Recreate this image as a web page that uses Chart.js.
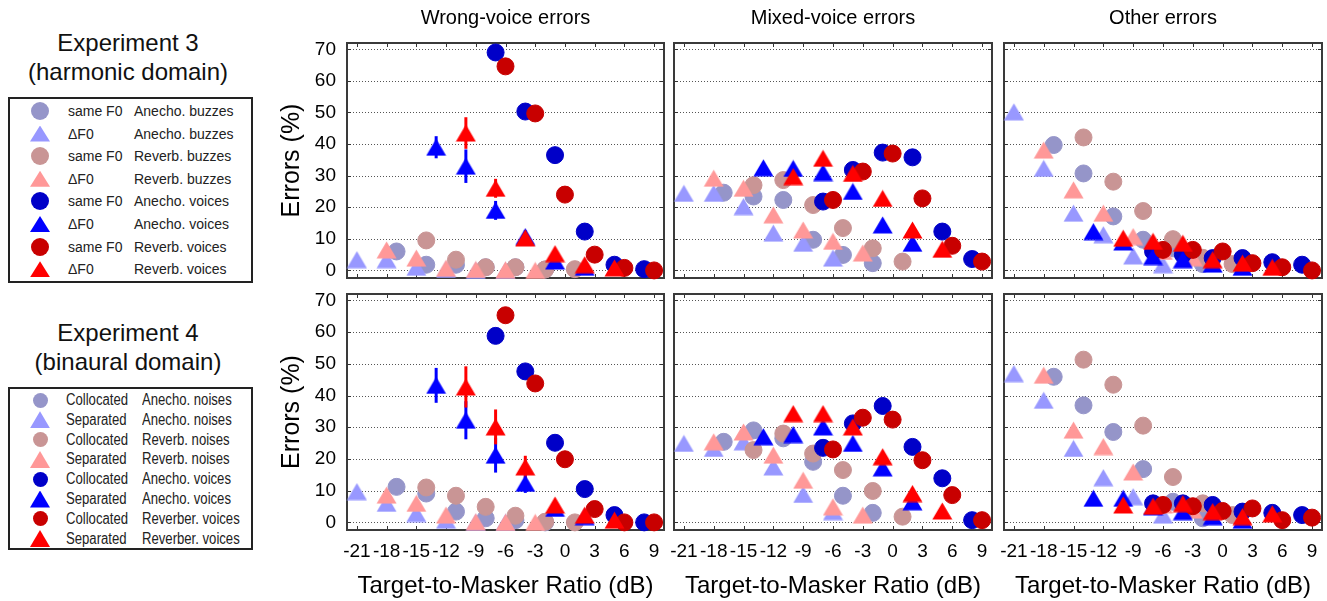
<!DOCTYPE html>
<html lang="en">
<head>
<meta charset="UTF-8">
<title>Errors vs Target-to-Masker Ratio</title>
<script src="https://cdn.jsdelivr.net/npm/chart.js"></script>
<style>
  body { margin: 0; width: 1327px; height: 601px; overflow: hidden; background: #fff; position: relative;
         font-family: 'Liberation Sans', Arial, sans-serif; color: #000; }
  .panel { position: absolute; }
  .exp-title { position: absolute; left: 0; width: 256px; text-align: center; font-size: 24px; line-height: 29px; color: #111; }
  .legend-box { position: absolute; left: 8px; width: 245px; border: 2px solid #222; box-sizing: border-box; }
  .txt { position: absolute; white-space: nowrap; line-height: 20px; color: #222; }
  .l3 { font-size: 14px; }
  .l4 { font-size: 16px; transform: scaleX(0.82); transform-origin: 0 50%; }
  .mk { position: absolute; }
  .tri { clip-path: polygon(50% 0, 100% 100%, 0 100%); }
</style>
</head>
<body>
<div class="exp-title" style="top:28px">Experiment 3<br>(harmonic domain)</div>
<div class="legend-box" style="top:97px;height:186px"></div>
<div class="exp-title" style="top:318px">Experiment 4<br>(binaural domain)</div>
<div class="legend-box" style="top:387px;height:163px"></div>
<script>
// axis ticks
const TMR_TICKS = [-21, -18, -15, -12, -9, -6, -3, 0, 3, 6, 9];
const ERR_TICKS = [0, 10, 20, 30, 40, 50, 60, 70];

// plotted TMR of each series (dB), same order as the legend
const xSameAnechBuzz = [-17, -14, -11, -8, -5, -2];
const xDiffAnechBuzz = [-21, -18, -15, -12, -9, -6];
const xSameReverbBuzz = [-14, -11, -8, -5, -2, 1];
const xDiffReverbBuzz = [-18, -15, -12, -9, -6, -3];
const xSameAnechVoice = [-7, -4, -1, 2, 5, 8];
const xDiffAnechVoice = [-13, -10, -7, -4, -1, 2];
const xSameReverbVoice = [-6, -3, 0, 3, 6, 9];
const xDiffReverbVoice = [-10, -7, -4, -1, 2, 5];

// errors (%) per panel, one row per series in legend order
const exp3Wrong = [
  [6, 1.8, 1.8, 1, 1, 0.3],
  [3.4, 3.4, 1, 0.3, 0, 0],
  [9.5, 3.4, 1, 1, 0.3, 0.4],
  [6.5, 3.9, 0.7, 0.3, 0.2, 0],
  [69, 50.3, 36.5, 12.3, 1.8, 0.4],
  [39, 33, 19, 10.7, 3, 1],
  [64.6, 49.7, 24, 5, 0.8, 0],
  [43.5, 26, 10.3, 5.3, 1.8, 0.8]
];
const exp3Mixed = [
  [24.6, 23.4, 22.3, 9.7, 4.9, 2.3],
  [24.4, 24.4, 20.2, 11.8, 8.6, 3.9],
  [27, 28.6, 20.7, 13.4, 7, 2.8],
  [29.2, 26, 17.6, 12.8, 9.2, 5.5],
  [21.8, 31.8, 37.3, 35.8, 12.3, 3.6],
  [32.5, 32.3, 31, 25, 14.4, 8.6],
  [22.3, 31.3, 37, 22.8, 7.8, 2.8],
  [29.7, 35.5, 30.7, 22.8, 12.8, 6.7]
];
const exp3Other = [
  [39.7, 30.7, 17.1, 9.7, 7, 2],
  [50.2, 32.3, 18.1, 11.3, 4.6, 1.8],
  [42.1, 28.1, 18.8, 9.9, 4, 2],
  [38.1, 25.5, 18.1, 10.7, 6, 4],
  [6, 5, 3.9, 3.9, 2.6, 1.8],
  [12.3, 9, 4.4, 3.4, 2, 1],
  [6.5, 6.5, 6, 2.3, 1, 0],
  [10.2, 9.2, 8.6, 3.4, 2.3, 1]
];
const exp4Wrong = [
  [11.2, 9.1, 3.4, 1.3, 0.7, 0],
  [9.7, 6, 2.8, 0.7, 0, 0],
  [11, 8.4, 4.9, 2.1, 0.2, 0],
  [8.6, 6, 2.3, 0.2, 0, 0],
  [58.8, 47.6, 25.1, 10.5, 2.3, 0],
  [43.2, 32.2, 21.2, 12.3, 4.4, 1.8],
  [65.3, 43.8, 19.9, 4.2, 0, 0],
  [42.7, 30.1, 17.5, 5.5, 2.3, 0.7]
];
const exp4Mixed = [
  [25.4, 29, 26.5, 19.1, 8.4, 3],
  [24.9, 23.3, 25.4, 17.5, 8.8, 3.4],
  [22.8, 28, 21.7, 16.5, 9.9, 1.8],
  [25.4, 28.5, 21.2, 13.3, 4.9, 2.3],
  [23.5, 31.2, 36.7, 23.8, 13.9, 0.7],
  [27, 27.7, 30.1, 24.9, 17.2, 6.5],
  [23, 33, 32.4, 19.6, 8.6, 0.7],
  [34.3, 34.3, 30.1, 20.7, 9.1, 3.6]
];
const exp4Other = [
  [45.9, 36.9, 28.5, 16.8, 6.5, 1.3],
  [46.9, 38.5, 23.3, 14.1, 8.1, 2.3],
  [51.3, 43.4, 30.5, 14.3, 6, 2.3],
  [46.4, 29.1, 23.9, 15.9, 5.5, 3.9],
  [6, 6, 5.5, 3.4, 3, 2.3],
  [7.6, 7.6, 4.9, 3.4, 1.8, 0.7],
  [5.5, 5.1, 3.6, 4.4, 0.7, 1.5],
  [5.5, 5.1, 5.9, 3.4, 1.8, 2.7]
];

// error bar half-widths (%) for the voice triangles in the wrong-voice panels
const exp3WrongErrBlue = [3.5, 5.3, 3, 2, 0, 0];
const exp3WrongErrRed = [5, 3, 1.5, 0, 0, 0];
const exp4WrongErrBlue = [5.5, 6, 5.5, 3, 0, 0];
const exp4WrongErrRed = [6.5, 5.5, 3.5, 0, 0, 0];

const exp3Col1 = ['same F0', 'ΔF0', 'same F0', 'ΔF0', 'same F0', 'ΔF0', 'same F0', 'ΔF0'];
const exp3Col2 = ['Anecho. buzzes', 'Anecho. buzzes', 'Reverb. buzzes', 'Reverb. buzzes',
                  'Anecho. voices', 'Anecho. voices', 'Reverb. voices', 'Reverb. voices'];
const exp4Col1 = ['Collocated', 'Separated', 'Collocated', 'Separated', 'Collocated', 'Separated', 'Collocated', 'Separated'];
const exp4Col2 = ['Anecho. noises', 'Anecho. noises', 'Reverb. noises', 'Reverb. noises',
                  'Anecho. voices', 'Anecho. voices', 'Reverber. voices', 'Reverber. voices'];
const columnTitles = ['Wrong-voice errors', 'Mixed-voice errors', 'Other errors'];

// styling
const seriesX = [xSameAnechBuzz, xDiffAnechBuzz, xSameReverbBuzz, xDiffReverbBuzz,
                 xSameAnechVoice, xDiffAnechVoice, xSameReverbVoice, xDiffReverbVoice];
const colors = ['#9595c9', '#9898ff', '#c99595', '#ff9898', '#0000c8', '#0000ff', '#c80000', '#ff0000'];
const shapes = ['circle', 'triangle', 'circle', 'triangle', 'circle', 'triangle', 'circle', 'triangle'];

Chart.defaults.font.family = "'Liberation Sans', Arial, sans-serif";
Chart.defaults.color = '#000';

// triangle marker centred on its bounding box (like the original plotting tool)
function triangleImage(color) {
  const c = document.createElement('canvas');
  c.width = 21; c.height = 18;
  const g = c.getContext('2d');
  g.fillStyle = color;
  g.beginPath();
  g.moveTo(10.5, 0.5); g.lineTo(20.5, 17.5); g.lineTo(0.5, 17.5);
  g.closePath();
  g.fill();
  return c;
}
const markerStyles = shapes.map((s, i) => s === 'triangle' ? triangleImage(colors[i]) : 'circle');

// dotted grid, inward ticks, box round the plot area, error bars
const framePlugin = {
  id: 'frame',
  beforeDatasetsDraw(chart) {
    const { ctx, chartArea: a, scales: { x, y } } = chart;
    ctx.save();
    ctx.lineWidth = 1;
    ctx.strokeStyle = '#555';
    ctx.setLineDash([1, 2]);
    ERR_TICKS.forEach(v => {
      const py = Math.round(y.getPixelForValue(v)) + 0.5;
      ctx.beginPath(); ctx.moveTo(a.left, py); ctx.lineTo(a.right, py); ctx.stroke();
    });
    ctx.setLineDash([]);
    ctx.strokeStyle = '#333';
    ctx.beginPath();
    TMR_TICKS.forEach(v => {
      const px = Math.round(x.getPixelForValue(v)) + 0.5;
      ctx.moveTo(px, a.top); ctx.lineTo(px, a.top + 4);
      ctx.moveTo(px, a.bottom); ctx.lineTo(px, a.bottom - 4);
    });
    ERR_TICKS.forEach(v => {
      const py = Math.round(y.getPixelForValue(v)) + 0.5;
      ctx.moveTo(a.left, py); ctx.lineTo(a.left + 4, py);
      ctx.moveTo(a.right, py); ctx.lineTo(a.right - 4, py);
    });
    ctx.stroke();
    ctx.lineWidth = 2;
    ctx.strokeStyle = '#3a3a3a';
    ctx.strokeRect(a.left, a.top, a.right - a.left, a.bottom - a.top);

    chart.data.datasets.forEach((ds, i) => {
      if (!ds.errs) return;
      const meta = chart.getDatasetMeta(i);
      ctx.strokeStyle = ds.backgroundColor;
      ctx.lineWidth = 3;
      ds.data.forEach((pt, j) => {
        const e = ds.errs[j];
        if (!e) return;
        const px = meta.data[j].x;
        ctx.beginPath();
        ctx.moveTo(px, y.getPixelForValue(pt.y - e));
        ctx.lineTo(px, y.getPixelForValue(pt.y + e));
        ctx.stroke();
      });
    });
    ctx.restore();
  }
};

const cols = [
  { left: 273, width: 397, yw: 74, pr: 6 },
  { left: 670, width: 328, yw: 4, pr: 6 },
  { left: 1000, width: 327, yw: 4, pr: 5 }
];
const rows = [
  { top: 0, height: 284, xh: 6, pt: 0 },
  { top: 288, height: 313, xh: 71, pt: 6 }
];

const panels = [
  { row: 0, col: 0, values: exp3Wrong, errs: { 5: exp3WrongErrBlue, 7: exp3WrongErrRed } },
  { row: 0, col: 1, values: exp3Mixed, errs: {} },
  { row: 0, col: 2, values: exp3Other, errs: {} },
  { row: 1, col: 0, values: exp4Wrong, errs: { 5: exp4WrongErrBlue, 7: exp4WrongErrRed } },
  { row: 1, col: 1, values: exp4Mixed, errs: {} },
  { row: 1, col: 2, values: exp4Other, errs: {} }
];

panels.forEach(p => {
  const c = cols[p.col], r = rows[p.row];
  const box = document.createElement('div');
  box.className = 'panel';
  box.style.left = c.left + 'px';
  box.style.top = r.top + 'px';
  box.style.width = c.width + 'px';
  box.style.height = r.height + 'px';
  const canvas = document.createElement('canvas');
  box.appendChild(canvas);
  document.body.appendChild(box);

  const names1 = p.row === 0 ? exp3Col1 : exp4Col1;
  const names2 = p.row === 0 ? exp3Col2 : exp4Col2;
  const datasets = p.values.map((ys, i) => ({
    label: names1[i] + ' ' + names2[i],
    data: ys.map((v, j) => ({ x: seriesX[i][j], y: v })),
    pointStyle: markerStyles[i],
    pointRadius: shapes[i] === 'triangle' ? 10 : 8.5,
    backgroundColor: colors[i],
    borderColor: colors[i],
    borderWidth: 1,
    clip: false,
    order: 8 - i,
    errs: p.errs[i] || null
  }));

  // fixed axis sizes so every plot box lands at the same place
  const scales = {
    x: {
      type: 'linear', position: 'bottom', min: -22, max: 10,
      afterBuildTicks: s => { s.ticks = TMR_TICKS.map(v => ({ value: v })); },
      afterFit: s => { s.height = r.xh; s.paddingLeft = 0; s.paddingRight = 0; },
      grid: { display: false, drawTicks: false },
      border: { display: false },
      ticks: { display: p.row === 1, autoSkip: false, maxRotation: 0, minRotation: 0,
               padding: 10, font: { size: 19 }, color: '#000' },
      title: { display: p.row === 1, text: 'Target-to-Masker Ratio (dB)', color: '#000',
               font: { size: 24 }, padding: { top: 0, bottom: 0 } }
    },
    y: {
      type: 'linear', position: 'left', min: -2.4, max: 72,
      afterBuildTicks: s => { s.ticks = ERR_TICKS.map(v => ({ value: v })); },
      afterFit: s => { s.width = c.yw; s.paddingTop = 0; s.paddingBottom = 0; },
      grid: { display: false, drawTicks: false },
      border: { display: false },
      ticks: { display: p.col === 0, padding: 11, font: { size: 19 }, color: '#000' },
      title: { display: p.col === 0, text: 'Errors (%)', color: '#000', font: { size: 25 } }
    }
  };
  if (p.row === 0) {
    scales.x2 = {
      type: 'linear', position: 'top', min: -22, max: 10,
      afterFit: s => { s.height = 43; s.paddingLeft = 0; s.paddingRight = 0; },
      grid: { display: false, drawTicks: false },
      border: { display: false },
      ticks: { display: false },
      title: { display: true, text: columnTitles[p.col], color: '#000',
               font: { size: 20 }, padding: { top: 6, bottom: 0 } }
    };
  }

  new Chart(canvas, {
    type: 'scatter',
    data: { datasets },
    options: {
      responsive: true,
      maintainAspectRatio: false,
      animation: false,
      events: [],
      layout: { autoPadding: false, padding: { left: 0, right: c.pr, top: r.pt, bottom: 0 } },
      plugins: { legend: { display: false }, tooltip: { enabled: false } },
      scales
    },
    plugins: [framePlugin]
  });
});

// legends at the left (HTML)
function addLegend(names1, names2, firstY, step, cls, textX1, textX2, circleSize, triH) {
  names1.forEach((n, i) => {
    const cy = firstY + i * step;
    const mk = document.createElement('div');
    mk.className = 'mk' + (shapes[i] === 'triangle' ? ' tri' : '');
    if (shapes[i] === 'triangle') {
      mk.style.width = '20px'; mk.style.height = triH + 'px';
      mk.style.left = '30px'; mk.style.top = (cy - triH / 2) + 'px';
    } else {
      mk.style.width = circleSize + 'px'; mk.style.height = circleSize + 'px';
      mk.style.borderRadius = '50%';
      mk.style.left = (40 - circleSize / 2) + 'px'; mk.style.top = (cy - circleSize / 2) + 'px';
    }
    mk.style.background = colors[i];
    document.body.appendChild(mk);

    [[n, textX1], [names2[i], textX2]].forEach(([t, x]) => {
      const d = document.createElement('div');
      d.className = 'txt ' + cls;
      d.style.left = x + 'px';
      d.style.top = (cy - 10) + 'px';
      d.textContent = t;
      document.body.appendChild(d);
    });
  });
}
addLegend(exp3Col1, exp3Col2, 111, 22.6, 'l3', 68, 134, 18, 16);
addLegend(exp4Col1, exp4Col2, 400, 19.8, 'l4', 66, 142, 15, 17);
</script>
</body>
</html>
